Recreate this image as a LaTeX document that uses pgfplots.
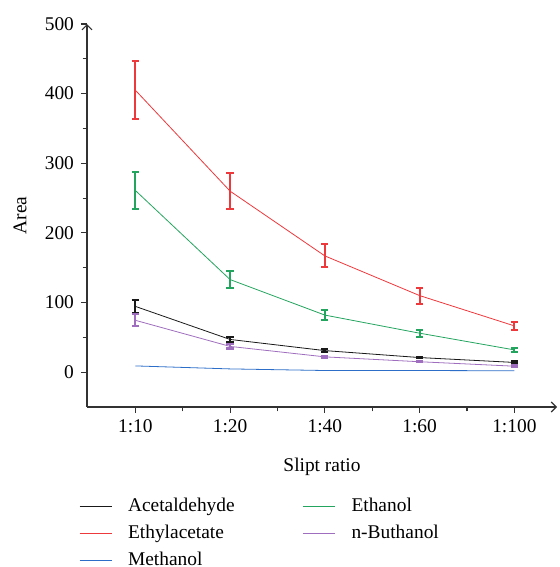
\documentclass[border=0pt]{standalone}
\usepackage{pgfplots}
\pgfplotsset{compat=1.18}
\usepackage{fontspec}
\setmainfont{Liberation Serif}
\usetikzlibrary{arrows.meta}
\definecolor{cred}{RGB}{237,56,60}
\definecolor{cgreen}{RGB}{35,165,95}
\definecolor{cblue}{RGB}{45,110,200}
\definecolor{cpurple}{RGB}{160,110,190}
\definecolor{cblack}{RGB}{25,25,25}
\definecolor{caxis}{RGB}{50,50,50}
\pgfplotstableread{
x y e
0 94.5 9.5
1 47 4
2 31 2
3 21 1
4 14 1.5
}\acet
\pgfplotstableread{
x y e
0 261 27
1 133 12.5
2 82 7.5
3 56 5
4 32 3
}\ethanol
\pgfplotstableread{
x y e
0 405 42
1 260 26
2 167 16.5
3 110 11.5
4 66.5 5.5
}\ethyl
\pgfplotstableread{
x y e
0 74.5 8.5
1 37 3
2 22 1.5
3 15 1
4 8.6 1
}\butha
\pgfplotstableread{
x y
0 9
1 4.7
2 2.4
3 2.4
4 2
}\metha
\begin{document}
\begin{tikzpicture}
\useasboundingbox (-43.5pt,-80pt) rectangle (236pt,203.5pt);
\begin{axis}[
  scale only axis, width=235pt, height=191.5pt,
  at={(0,0)}, anchor=south west,
  font=\fontsize{9.7}{11.6}\selectfont,
  /pgf/number format/assume math mode=true,
  xmin=-0.51, xmax=4.45, ymin=-50, ymax=500,
  axis x line=bottom, axis y line=left,
  axis line style={caxis, line width=0.55pt, -{Straight Barb[length=2.5pt,width=5pt]}},
  xtick={0,1,2,3,4}, xticklabels={1:10,1:20,1:40,1:60,1:100},
  minor xtick={0.5,1.5,2.5,3.5},
  ytick={0,100,200,300,400,500},
  minor ytick={50,150,250,350,450},
  tick align=outside,
  tick style={caxis, line width=0.55pt},
  major tick length=3pt, minor tick length=2.2pt,
  xlabel={Slipt ratio}, ylabel={Area},
  xlabel style={at={(rel axis cs:0.5,0)}, anchor=center, yshift=-30pt},
  ylabel style={at={(rel axis cs:0,0.5)}, anchor=center, yshift=33.5pt},
  every plot/.append style={line width=1pt},
  legend columns=2,
  legend cell align=left,
  legend style={draw=none, fill=none, at={(rel axis cs:-0.03,-0.216)}, anchor=north west,
    /tikz/every odd column/.style={column sep=0pt},
    /tikz/column 2/.style={column sep=32pt},
    row sep=1.2pt},
  legend image code/.code={\draw[#1] (0pt,0pt) -- (16pt,0pt); \path (22pt,0pt);},
]
\addplot[cblack, error bars/.cd, y dir=both, y explicit,
  error bar style={cblack, line width=1.05pt},
  error mark options={cblack, rotate=90, mark size=1.8pt, line width=1.05pt}]
  table[x=x,y=y,y error=e]{\acet};
\addlegendentry{Acetaldehyde}
\addplot[cgreen, error bars/.cd, y dir=both, y explicit,
  error bar style={cgreen, line width=1.05pt},
  error mark options={cgreen, rotate=90, mark size=1.8pt, line width=1.05pt}]
  table[x=x,y=y,y error=e]{\ethanol};
\addlegendentry{Ethanol}
\addplot[cred, error bars/.cd, y dir=both, y explicit,
  error bar style={cred, line width=1.05pt},
  error mark options={cred, rotate=90, mark size=1.8pt, line width=1.05pt}]
  table[x=x,y=y,y error=e]{\ethyl};
\addlegendentry{Ethylacetate}
\addplot[cpurple, error bars/.cd, y dir=both, y explicit,
  error bar style={cpurple, line width=1.05pt},
  error mark options={cpurple, rotate=90, mark size=1.8pt, line width=1.05pt}]
  table[x=x,y=y,y error=e]{\butha};
\addlegendentry{n-Buthanol}
\addplot[cblue] table[x=x,y=y]{\metha};
\addlegendentry{Methanol}
\end{axis}
\end{tikzpicture}
\end{document}
